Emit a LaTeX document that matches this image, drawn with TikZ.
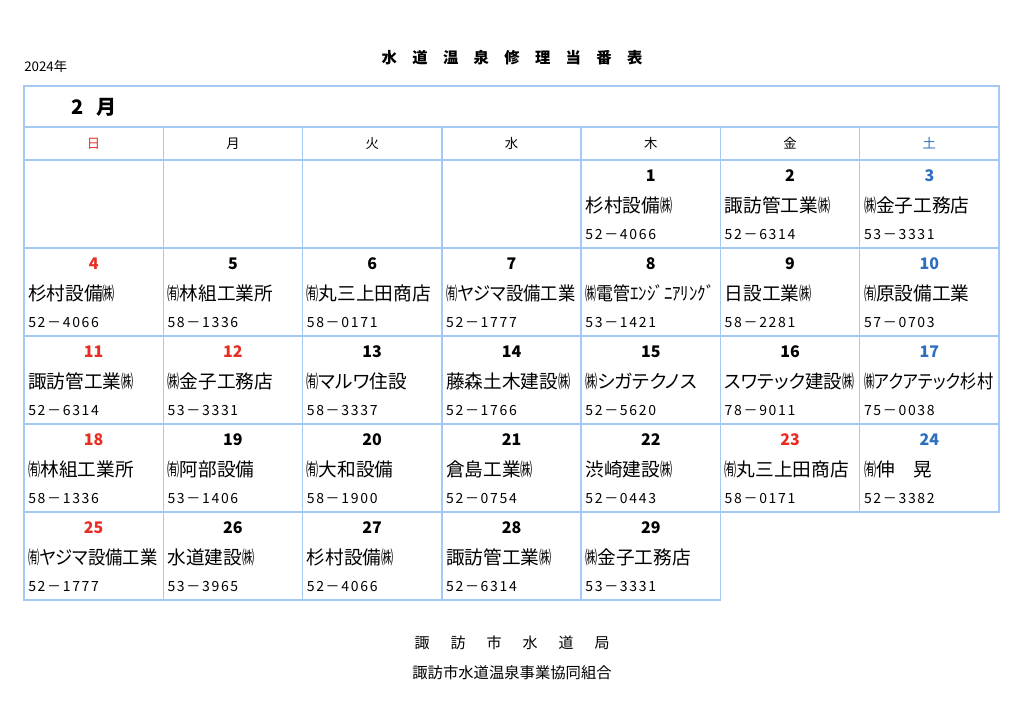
\documentclass[tikz,border=0pt]{standalone}
\usepackage{graphicx}
\usepackage{fontspec}
\setmainfont{Noto Sans CJK JP}[RawFeature=+palt]
\newfontfamily\telfont{Noto Sans CJK JP}[LetterSpace=12]
\definecolor{gridblue}{RGB}{165,200,245}
\definecolor{sunred}{RGB}{232,45,35}
\definecolor{satblue}{RGB}{45,110,190}
\newcommand\kabu{\scalebox{0.65}[1]{㈱}}
\newcommand\yugen{\scalebox{0.65}[1]{㈲}}
\newsavebox\namebox
\newcommand\fitname[1]{\sbox\namebox{#1}%
    \ifdim\wd\namebox>97pt\pgfmathsetmacro\fitratio{97/\the\wd\namebox}%
    \scalebox{\fitratio}[1]{\usebox\namebox}\else\usebox\namebox\fi}

\begin{document}
\begin{tikzpicture}[x=0.75pt,y=-0.75pt,
    cell/.style={draw=gridblue, line width=1pt, minimum width=104.47pt, minimum height=66pt, inner sep=0pt, outer sep=0pt},
    wdcell/.style={cell, minimum height=24.75pt},
    dayno/.style={font=\fontsize{12}{12}\selectfont\bfseries, inner sep=0pt},
    firm/.style={font=\fontsize{14}{14}\selectfont, anchor=west, inner sep=0pt},
    tel/.style={font=\telfont\fontsize{10.5}{10.5}\selectfont, anchor=west, inner sep=0pt}]
    \useasboundingbox (0,0) rectangle (1024,713);

    % heading
    \node[font=\fontsize{10}{10}\selectfont, anchor=west, inner sep=0pt] (year) at (24,66) {2024年};
    \node[font=\fontsize{11.5}{11.5}\selectfont\bfseries, inner sep=0pt] (title) at (512,58) {水　道　温　泉　修　理　当　番　表};
    \node[draw=gridblue, line width=1pt, minimum width=731.25pt, minimum height=30.75pt, inner sep=0pt] (month) at (511.5,106.5) {};
    \node[font=\fontsize{15}{15}\selectfont\bfseries, anchor=west, inner sep=0pt] (monthlabel) at (71,107) {2\hspace{10pt}月};

    % weekdays
    \foreach \c/\wday/\clr in {0/日/sunred,1/月/black,2/火/black,3/水/black,4/木/black,5/金/black,6/土/satblue}
        \node[wdcell, text=\clr, font=\fontsize{10}{10}\selectfont] (wd-\c) at (93.64+139.29*\c,143.5) {\wday};

    % calendar cells
    \foreach \r in {0,...,3}
        \foreach \c in {0,...,6}
            \node[cell] (cell-\r-\c) at (93.64+139.29*\c,204+88*\r) {};
    \foreach \c in {0,...,4}
        \node[cell] (cell-4-\c) at (93.64+139.29*\c,556) {};

    % duty entries
    \foreach \d/\r/\c/\clr/\firm/\tel in {
        1/0/4/black/杉村設備\kabu/52－4066,
        2/0/5/black/諏訪管工業\kabu/52－6314,
        3/0/6/satblue/\kabu 金子工務店/53－3331,
        4/1/0/sunred/杉村設備\kabu/52－4066,
        5/1/1/black/\yugen 林組工業所/58－1336,
        6/1/2/black/\yugen 丸三上田商店/58－0171,
        7/1/3/black/\yugen ヤジマ設備工業/52－1777,
        8/1/4/black/\kabu 電管ｴﾝｼﾞﾆｱﾘﾝｸﾞ/53－1421,
        9/1/5/black/日設工業\kabu/58－2281,
        10/1/6/satblue/\yugen 原設備工業/57－0703,
        11/2/0/sunred/諏訪管工業\kabu/52－6314,
        12/2/1/sunred/\kabu 金子工務店/53－3331,
        13/2/2/black/\yugen マルワ住設/58－3337,
        14/2/3/black/藤森土木建設\kabu/52－1766,
        15/2/4/black/\kabu シガテクノス/52－5620,
        16/2/5/black/スワテック建設\kabu/78－9011,
        17/2/6/satblue/\kabu アクアテック杉村/75－0038,
        18/3/0/sunred/\yugen 林組工業所/58－1336,
        19/3/1/black/\yugen 阿部設備/53－1406,
        20/3/2/black/\yugen 大和設備/58－1900,
        21/3/3/black/倉島工業\kabu/52－0754,
        22/3/4/black/渋崎建設\kabu/52－0443,
        23/3/5/sunred/\yugen 丸三上田商店/58－0171,
        24/3/6/satblue/\yugen 伸　晃/52－3382,
        25/4/0/sunred/\yugen ヤジマ設備工業/52－1777,
        26/4/1/black/水道建設\kabu/53－3965,
        27/4/2/black/杉村設備\kabu/52－4066,
        28/4/3/black/諏訪管工業\kabu/52－6314,
        29/4/4/black/\kabu 金子工務店/53－3331}{
        \node[dayno, text=\clr] (day-\d) at ([yshift=-12pt]cell-\r-\c.north) {\d};
        \node[firm] (firm-\d) at ([xshift=3pt,yshift=-33.75pt]cell-\r-\c.north west) {\fitname{\firm}};
        \node[tel] (tel-\d) at ([xshift=3pt,yshift=-56.25pt]cell-\r-\c.north west) {\tel};
    }

    % footer
    \node[font=\fontsize{11.25}{11.25}\selectfont, inner sep=0pt] (office) at (512,643) {諏\hspace{15.75pt}訪\hspace{15.75pt}市\hspace{15.75pt}水\hspace{15.75pt}道\hspace{15.75pt}局};
    \node[font=\fontsize{11.5}{11.5}\selectfont, inner sep=0pt] (union) at (512,673) {諏訪市水道温泉事業協同組合};
\end{tikzpicture}
\end{document}
